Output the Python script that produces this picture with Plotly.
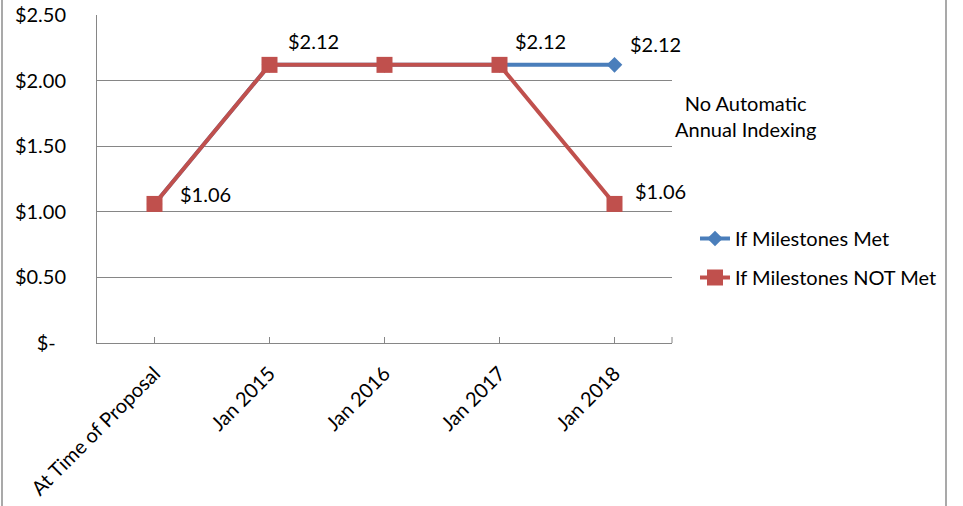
import plotly.graph_objects as go

categories = ["At Time of Proposal", "Jan 2015", "Jan 2016", "Jan 2017", "Jan 2018"]
met_values = [1.06, 2.12, 2.12, 2.12, 2.12]
not_met_values = [1.06, 2.12, 2.12, 2.12, 1.06]
series_names = ["If Milestones Met", "If Milestones NOT Met"]
y_tick_values = [0, 0.5, 1.0, 1.5, 2.0, 2.5]
y_tick_labels = ["$-\u00a0\u00a0", "$0.50", "$1.00", "$1.50", "$2.00", "$2.50"]
note_text = "No Automatic<br>Annual Indexing"

# which points carry data labels: (series index, point index, xshift, yshift)
label_specs = [
    (0, 4, 41, 21),
    (1, 0, 51, 10),
    (1, 1, 44, 24),
    (1, 3, 41, 24),
    (1, 4, 46, 13),
]

BLUE = "#4a7ebb"
RED = "#c0504d"
GRID = "#868686"
FONT = "Lato, sans-serif"
FS = 20

fig = go.Figure()
fig.add_trace(go.Scatter(
    x=categories, y=met_values, name=series_names[0], mode="lines+markers",
    line=dict(color=BLUE, width=4), marker=dict(symbol="diamond", size=12, color=BLUE),
    legendgroup="a",
))
fig.add_trace(go.Scatter(
    x=categories, y=not_met_values, name=series_names[1], mode="lines+markers",
    line=dict(color=RED, width=4), marker=dict(symbol="square", size=16, color=RED),
    legendgroup="b",
))

all_series = [met_values, not_met_values]
for s, i, dx, dy in label_specs:
    v = all_series[s][i]
    fig.add_annotation(x=categories[i], y=v, text=f"${v:.2f}", showarrow=False,
                       xshift=dx, yshift=dy, font=dict(family=FONT, size=FS, color="#000"))

fig.add_annotation(xref="paper", yref="paper", x=(745 - 97) / 575, y=(343 - 116) / 328,
                   xanchor="center", yanchor="middle",
                   text=note_text, showarrow=False, align="center",
                   font=dict(family=FONT, size=FS, color="#000"))

# outer chart border (left and right edges)
for px in (2, 946):
    fig.add_shape(type="line", xref="paper", yref="paper",
                  x0=(px - 97) / 575, x1=(px - 97) / 575,
                  y0=(343 - 506) / 328, y1=(343 - 0) / 328,
                  line=dict(color="#8c8c8c", width=1.5))
# right end tick on x axis
fig.add_shape(type="line", xref="paper", yref="paper", x0=1, x1=1,
              y0=0, y1=6 / 328, line=dict(color=GRID, width=1))

fig.update_layout(
    width=963, height=506,
    margin=dict(l=97, r=291, t=15, b=163, autoexpand=False),
    paper_bgcolor="white", plot_bgcolor="white",
    font=dict(family=FONT, size=FS, color="#000"),
    showlegend=True,
    legend=dict(x=(695 - 97) / 575, y=(343 - 219) / 328, xanchor="left", yanchor="top",
                font=dict(family=FONT, size=FS, color="#000"),
                tracegroupgap=10, bgcolor="rgba(0,0,0,0)", itemwidth=30),
    xaxis=dict(type="category", range=[-0.5, 4.5], showgrid=False, automargin=False,
               showline=True, linecolor=GRID, linewidth=1,
               ticks="inside", ticklen=6, tickcolor=GRID, tickangle=-45,
               ticklabelstandoff=10, tickfont=dict(family=FONT, size=FS, color="#000")),
    yaxis=dict(range=[0, 2.5], tickvals=y_tick_values, ticktext=y_tick_labels,
               showgrid=True, gridcolor=GRID, gridwidth=1, automargin=False,
               showline=True, linecolor=GRID, linewidth=1, ticks="",
               zeroline=False, ticklabelstandoff=26,
               tickfont=dict(family=FONT, size=FS, color="#000")),
)

fig.write_html("out.html", config={"displayModeBar": False},
               post_script="document.body.style.margin='0';")
